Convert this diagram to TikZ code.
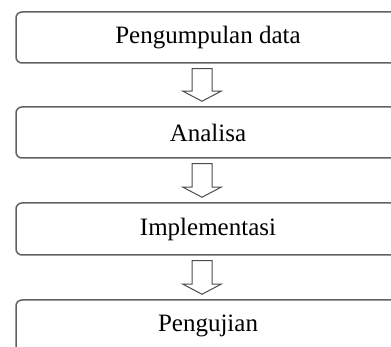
\documentclass[tikz,border=0pt]{standalone}
\usepackage{fontspec}
\setmainfont{Liberation Serif}
\usetikzlibrary{calc}

\tikzset{
  stagebox/.style={draw=black!62, line width=1.5pt, rounded corners=6pt,
    minimum width=384pt, inner sep=0pt, font=\fontsize{25}{30}\selectfont},
  blockarrow/.style={draw=black!70, line width=1pt, fill=white, line join=miter}
}

\begin{document}
\begin{tikzpicture}[x=1pt, y=-1pt]
\useasboundingbox (0,0) rectangle (391,347);
\clip (0,0) rectangle (391,347);
\node[stagebox, minimum height=51pt] (kumpul) at (208,37.5) {Pengumpulan data};
\node[stagebox, minimum height=51pt] (analisa) at (208,132.5) {Analisa};
\node[stagebox, minimum height=52pt] (implementasi) at (208,229) {Implementasi};
\node[stagebox, minimum height=52pt] (uji) at (208,326) {Pengujian};
% panah blok
\draw[blockarrow] ($(kumpul.south)+(-16,5)$) -- ($(kumpul.south)+(4,5)$)
  -- ($(analisa.north)+(4,-15)$) -- ($(analisa.north)+(13,-15)$)
  -- ($(analisa.north)+(-6,-5)$) -- ($(analisa.north)+(-25,-15)$)
  -- ($(analisa.north)+(-16,-15)$) -- cycle;
\draw[blockarrow] ($(analisa.south)+(-16,5)$) -- ($(analisa.south)+(4,5)$)
  -- ($(implementasi.north)+(4,-15)$) -- ($(implementasi.north)+(13,-15)$)
  -- ($(implementasi.north)+(-6,-5)$) -- ($(implementasi.north)+(-25,-15)$)
  -- ($(implementasi.north)+(-16,-15)$) -- cycle;
\draw[blockarrow] ($(implementasi.south)+(-16,5)$) -- ($(implementasi.south)+(4,5)$)
  -- ($(uji.north)+(4,-15)$) -- ($(uji.north)+(13,-15)$)
  -- ($(uji.north)+(-6,-5)$) -- ($(uji.north)+(-25,-15)$)
  -- ($(uji.north)+(-16,-15)$) -- cycle;
\end{tikzpicture}
\end{document}
